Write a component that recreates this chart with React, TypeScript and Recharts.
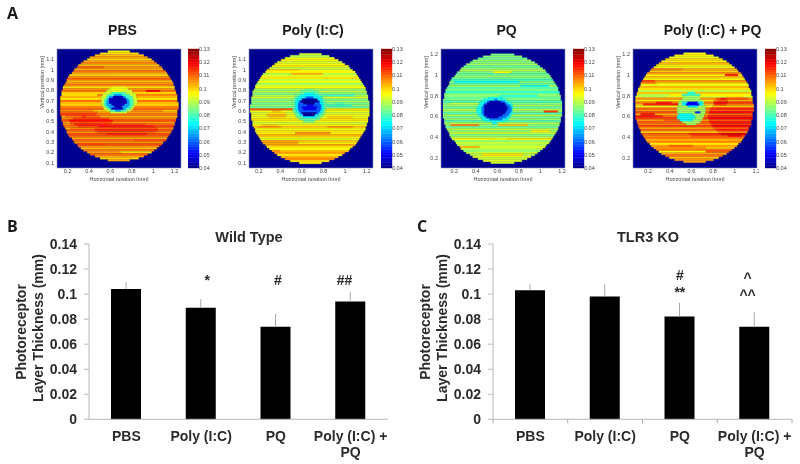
import React from "react"
import {
  Bar,
  BarChart,
  ErrorBar,
  ReferenceArea,
  ReferenceDot,
  ScatterChart,
  XAxis,
  YAxis,
} from "recharts"

// thickness rows of each map, top to bottom
const pbsRows = [
  0.097, 0.099, 0.102, 0.105, 0.1, 0.104, 0.107, 0.101, 0.106, 0.103, 0.109, 0.104, 0.1, 0.106, 0.11, 0.102, 0.105,
  0.108, 0.099, 0.105, 0.109, 0.1, 0.107, 0.103, 0.098, 0.109, 0.102, 0.1, 0.107, 0.11, 0.101, 0.105, 0.109, 0.103,
  0.107, 0.112, 0.105, 0.11, 0.113, 0.107, 0.111, 0.106, 0.112, 0.109, 0.104, 0.11, 0.105, 0.112, 0.107, 0.102, 0.108,
  0.104, 0.11, 0.105, 0.1, 0.104,
]
const polyRows = [
  0.092, 0.09, 0.094, 0.097, 0.092, 0.095, 0.098, 0.091, 0.094, 0.097, 0.09, 0.093, 0.099, 0.091, 0.096, 0.088, 0.092,
  0.097, 0.087, 0.091, 0.085, 0.089, 0.093, 0.085, 0.088, 0.084, 0.087, 0.083, 0.099, 0.095, 0.092, 0.097, 0.094,
  0.099, 0.096, 0.092, 0.097, 0.101, 0.095, 0.099, 0.096, 0.103, 0.098, 0.094, 0.101, 0.097, 0.104, 0.099, 0.095,
  0.102, 0.105, 0.098, 0.103, 0.106, 0.1, 0.098,
]
const pqRows = [
  0.084, 0.086, 0.083, 0.087, 0.085, 0.088, 0.083, 0.086, 0.09, 0.085, 0.082, 0.087, 0.084, 0.08, 0.086, 0.083, 0.088,
  0.081, 0.085, 0.078, 0.084, 0.087, 0.082, 0.086, 0.08, 0.085, 0.088, 0.082, 0.09, 0.086, 0.081, 0.089, 0.084, 0.087,
  0.081, 0.09, 0.086, 0.083, 0.09, 0.087, 0.092, 0.085, 0.089, 0.094, 0.087, 0.091, 0.089, 0.093, 0.09, 0.086, 0.092,
  0.089, 0.094, 0.091, 0.093, 0.092,
]
const polyPqRows = [
  0.096, 0.098, 0.094, 0.1, 0.097, 0.103, 0.098, 0.095, 0.104, 0.1, 0.106, 0.097, 0.102, 0.096, 0.106, 0.1, 0.094,
  0.103, 0.099, 0.09, 0.102, 0.097, 0.093, 0.106, 0.098, 0.108, 0.102, 0.095, 0.11, 0.105, 0.112, 0.103, 0.109, 0.113,
  0.105, 0.111, 0.107, 0.113, 0.104, 0.11, 0.1, 0.111, 0.106, 0.109, 0.103, 0.107, 0.098, 0.105, 0.101, 0.108, 0.097,
  0.104, 0.109, 0.102, 0.106, 0.104,
]

// local zones, later ones win: v replaces the row value, add shifts it
const pbsZones = [
  { cx: 0.9, cy: 0.95, rx: 0.25, ry: 0.01, v: 0.099 },
  { cx: 0.35, cy: 1.02, rx: 0.2, ry: 0.008, v: 0.111 },
  { cx: 0.9, cy: 0.6, rx: 0.2, ry: 0.012, add: 0.005 },
  { cx: 0.3, cy: 0.75, rx: 0.2, ry: 0.01, v: 0.099 },
  { cx: 1.0, cy: 0.32, rx: 0.18, ry: 0.01, v: 0.112 },
  { cx: 0.35, cy: 0.28, rx: 0.2, ry: 0.012, v: 0.113 },
  { cx: 0.85, cy: 0.2, rx: 0.15, ry: 0.012, v: 0.099 },
  { cx: 0.2, cy: 0.45, rx: 0.1, ry: 0.02, add: -0.004 },
  { cx: 0.95, cy: 0.72, rx: 0.2, ry: 0.008, v: 0.098 },
  { cx: 0.45, cy: 0.15, rx: 0.15, ry: 0.012, v: 0.1 },
  { cx: 0.42, cy: 0.5, rx: 0.2, ry: 0.05, add: 0.006 },
  { cx: 0.75, cy: 0.42, rx: 0.3, ry: 0.06, add: 0.004 },
  { cx: 0.28, cy: 0.58, rx: 0.2, ry: 0.04, add: 0.005 },
  { cx: 1.0, cy: 0.8, rx: 0.08, ry: 0.012, v: 0.12 },
  { cx: 0.68, cy: 0.7, rx: 0.17, ry: 0.13, v: 0.092 },
  { cx: 0.68, cy: 0.81, rx: 0.08, ry: 0.035, v: 0.095 },
  { cx: 0.68, cy: 0.685, rx: 0.14, ry: 0.1, v: 0.08 },
  { cx: 0.67, cy: 0.68, rx: 0.11, ry: 0.08, v: 0.066 },
  { cx: 0.67, cy: 0.695, rx: 0.085, ry: 0.05, v: 0.045 },
  { cx: 0.67, cy: 0.625, rx: 0.055, ry: 0.022, v: 0.045 },
]
const polyZones = [
  { cx: 0.65, cy: 0.96, rx: 0.15, ry: 0.01, v: 0.103 },
  { cx: 0.4, cy: 1.0, rx: 0.2, ry: 0.008, v: 0.1 },
  { cx: 0.95, cy: 0.66, rx: 0.15, ry: 0.012, v: 0.08 },
  { cx: 0.9, cy: 0.75, rx: 0.2, ry: 0.01, v: 0.08 },
  { cx: 0.7, cy: 0.38, rx: 0.18, ry: 0.012, v: 0.106 },
  { cx: 0.95, cy: 0.44, rx: 0.12, ry: 0.008, v: 0.105 },
  { cx: 0.4, cy: 0.3, rx: 0.22, ry: 0.015, v: 0.104 },
  { cx: 0.65, cy: 0.13, rx: 0.3, ry: 0.01, v: 0.107 },
  { cx: 0.3, cy: 0.22, rx: 0.15, ry: 0.008, v: 0.106 },
  { cx: 0.95, cy: 0.53, rx: 0.2, ry: 0.01, v: 0.1 },
  { cx: 0.3, cy: 0.45, rx: 0.12, ry: 0.015, add: 0.004 },
  { cx: 0.3, cy: 0.62, rx: 0.25, ry: 0.012, v: 0.11 },
  { cx: 0.37, cy: 0.56, rx: 0.09, ry: 0.04, add: 0.006 },
  { cx: 0.67, cy: 0.65, rx: 0.16, ry: 0.16, v: 0.083 },
  { cx: 0.67, cy: 0.65, rx: 0.135, ry: 0.125, v: 0.074 },
  { cx: 0.67, cy: 0.64, rx: 0.11, ry: 0.095, v: 0.06 },
  { cx: 0.67, cy: 0.695, rx: 0.085, ry: 0.03, v: 0.042 },
  { cx: 0.675, cy: 0.63, rx: 0.075, ry: 0.025, v: 0.05 },
  { cx: 0.67, cy: 0.57, rx: 0.07, ry: 0.02, v: 0.042 },
]
const pqZones = [
  { cx: 0.65, cy: 1.02, rx: 0.1, ry: 0.01, v: 0.096 },
  { cx: 0.5, cy: 0.93, rx: 0.3, ry: 0.006, v: 0.075 },
  { cx: 0.95, cy: 0.9, rx: 0.2, ry: 0.01, v: 0.077 },
  { cx: 0.8, cy: 0.8, rx: 0.18, ry: 0.01, v: 0.078 },
  { cx: 0.35, cy: 0.72, rx: 0.2, ry: 0.006, v: 0.09 },
  { cx: 0.4, cy: 0.38, rx: 0.18, ry: 0.01, v: 0.097 },
  { cx: 0.9, cy: 0.38, rx: 0.2, ry: 0.008, v: 0.098 },
  { cx: 0.65, cy: 0.23, rx: 0.2, ry: 0.008, v: 0.099 },
  { cx: 1.0, cy: 0.45, rx: 0.1, ry: 0.012, v: 0.098 },
  { cx: 0.3, cy: 0.51, rx: 0.14, ry: 0.012, v: 0.108 },
  { cx: 1.1, cy: 0.65, rx: 0.07, ry: 0.012, v: 0.113 },
  { cx: 0.2, cy: 0.655, rx: 0.07, ry: 0.006, v: 0.105 },
  { cx: 0.3, cy: 0.3, rx: 0.14, ry: 0.012, v: 0.103 },
  { cx: 0.75, cy: 0.51, rx: 0.15, ry: 0.006, v: 0.102 },
  { cx: 0.58, cy: 0.66, rx: 0.17, ry: 0.13, v: 0.076 },
  { cx: 0.59, cy: 0.66, rx: 0.14, ry: 0.1, v: 0.062 },
  { cx: 0.585, cy: 0.67, rx: 0.11, ry: 0.08, v: 0.044 },
  { cx: 0.56, cy: 0.62, rx: 0.08, ry: 0.045, v: 0.045 },
]
const polyPqZones = [
  { cx: 0.35, cy: 0.72, rx: 0.25, ry: 0.012, v: 0.116 },
  { cx: 0.2, cy: 0.6, rx: 0.14, ry: 0.02, v: 0.116 },
  { cx: 0.45, cy: 0.55, rx: 0.2, ry: 0.012, v: 0.11 },
  { cx: 0.6, cy: 0.42, rx: 0.2, ry: 0.006, v: 0.09 },
  { cx: 0.75, cy: 0.95, rx: 0.2, ry: 0.008, v: 0.09 },
  { cx: 0.35, cy: 1.05, rx: 0.2, ry: 0.008, v: 0.108 },
  { cx: 0.5, cy: 0.3, rx: 0.25, ry: 0.015, add: 0.005 },
  { cx: 0.9, cy: 0.25, rx: 0.2, ry: 0.012, v: 0.111 },
  { cx: 0.85, cy: 0.42, rx: 0.3, ry: 0.02, add: 0.005 },
  { cx: 1.0, cy: 0.6, rx: 0.24, ry: 0.2, add: 0.006 },
  { cx: 0.87, cy: 0.74, rx: 0.07, ry: 0.04, add: 0.006 },
  { cx: 0.97, cy: 1.0, rx: 0.06, ry: 0.012, v: 0.116 },
  { cx: 0.2, cy: 0.93, rx: 0.08, ry: 0.02, add: 0.007 },
  { cx: 0.25, cy: 0.8, rx: 0.17, ry: 0.015, v: 0.09 },
  { cx: 0.6, cy: 0.66, rx: 0.13, ry: 0.15, v: 0.088 },
  { cx: 0.61, cy: 0.72, rx: 0.1, ry: 0.03, v: 0.073 },
  { cx: 0.615, cy: 0.72, rx: 0.065, ry: 0.016, v: 0.052 },
  { cx: 0.55, cy: 0.59, rx: 0.09, ry: 0.04, v: 0.075 },
  { cx: 0.66, cy: 0.63, rx: 0.03, ry: 0.012, v: 0.054 },
  { cx: 0.6, cy: 0.81, rx: 0.08, ry: 0.018, v: 0.078 },
]

const barLevels = [
  0.04, 0.042, 0.044, 0.046, 0.048, 0.05, 0.052, 0.054, 0.056, 0.058, 0.06, 0.062, 0.064, 0.066, 0.068, 0.07, 0.072,
  0.074, 0.076, 0.078, 0.08, 0.082, 0.084, 0.086, 0.088, 0.09, 0.092, 0.094, 0.096, 0.098, 0.1, 0.102, 0.104, 0.106,
  0.108, 0.11, 0.112, 0.114, 0.116, 0.118, 0.12, 0.122, 0.124, 0.126, 0.128,
]
const barTicks = [0.04, 0.05, 0.06, 0.07, 0.08, 0.09, 0.1, 0.11, 0.12, 0.13]

const hTicks = [0.2, 0.4, 0.6, 0.8, 1, 1.2]
const vTicksLow = [0.1, 0.2, 0.3, 0.4, 0.5, 0.6, 0.7, 0.8, 0.9, 1, 1.1]
const vTicksHigh = [0.2, 0.4, 0.6, 0.8, 1, 1.2]

const categories = ["PBS", "Poly (I:C)", "PQ", "Poly (I:C) + PQ"]
const wildType = [0.104, 0.089, 0.074, 0.094]
const wildTypeErr = [0.0055, 0.007, 0.01, 0.008]
const tlr3 = [0.103, 0.098, 0.082, 0.074]
const tlr3Err = [0.005, 0.01, 0.011, 0.0115]
const thicknessTicks = [0, 0.02, 0.04, 0.06, 0.08, 0.1, 0.12, 0.14]

const wildNotes = [
  { cat: "Poly (I:C)", y: 0.107, text: "*", dx: 6 },
  { cat: "PQ", y: 0.107, text: "#", dx: 2 },
  { cat: "Poly (I:C) + PQ", y: 0.107, text: "##", dx: -6 },
]
const tlrNotes = [
  { cat: "PQ", y: 0.111, text: "#", dx: 0 },
  { cat: "PQ", y: 0.098, text: "**", dx: 0 },
  { cat: "Poly (I:C) + PQ", y: 0.109, text: "^", dx: -7 },
  { cat: "Poly (I:C) + PQ", y: 0.095, text: "^^", dx: -7 },
]

const sans = "'Liberation Sans', Arial, sans-serif"

function jet(v: number) {
  const t = Math.min(1, Math.max(0, (v - 0.04) / 0.09))
  const ch = (c: number) => Math.round(255 * Math.min(1, Math.max(0, 1.5 - Math.abs(4 * t - c))))
  return `rgb(${ch(3)},${ch(2)},${ch(1)})`
}

type Zone = { cx: number; cy: number; rx: number; ry: number; v?: number; add?: number }

// splits each row of the disc into runs of one colour
function discRuns(rows: number[], zones: Zone[], cx: number, cy: number, rx: number, ry: number) {
  const rowH = (2 * ry) / rows.length
  const step = 0.012
  const runs: { x1: number; x2: number; y1: number; y2: number; fill: string }[] = []
  rows.forEach((rowValue, i) => {
    const y2 = cy + ry - i * rowH
    const y1 = y2 - rowH
    const yc = (y1 + y2) / 2
    const half = rx * Math.sqrt(Math.max(0, 1 - ((yc - cy) / ry) ** 2))
    const start = Math.round((cx - half) / step) * step
    const end = Math.round((cx + half) / step) * step
    let cur: { x1: number; x2: number; y1: number; y2: number; fill: string } | null = null
    for (let x = start; x < end - 1e-6; x += step) {
      let v = rowValue
      for (const z of zones) {
        const d = ((x + step / 2 - z.cx) / z.rx) ** 2 + ((yc - z.cy) / z.ry) ** 2
        if (d <= 1) v = z.v !== undefined ? z.v : v + (z.add || 0)
      }
      const fill = jet(v)
      if (cur && cur.fill === fill) cur.x2 = x + step
      else {
        cur = { x1: x, x2: x + step, y1, y2, fill }
        runs.push(cur)
      }
    }
  })
  return runs
}

type MapProps = {
  title: string
  titleX: number
  left: number
  rows: number[]
  zones: Zone[]
  xDomain: [number, number]
  yDomain: [number, number]
  yTicks: number[]
  disc: [number, number, number, number]
  barLeft: number
}

const axisText = { fontSize: 5.5, fill: "#444", fontFamily: sans }

function ThicknessMap({ title, titleX, left, rows, zones, xDomain, yDomain, yTicks, disc, barLeft }: MapProps) {
  const runs = discRuns(rows, zones, disc[0], disc[1], disc[2], disc[3])
  return (
    <>
      <div
        style={{
          position: "absolute",
          left: titleX - 70,
          width: 140,
          top: 22,
          textAlign: "center",
          font: `bold 14px ${sans}`,
          color: "#1a1a1a",
        }}
      >
        {title}
      </div>
      <div style={{ position: "absolute", left: left - 24, top: 47, filter: "blur(0.45px)" }}>
        <ScatterChart width={124 + 24 + 2} height={121 + 13} margin={{ top: 2, right: 2, bottom: 0, left: 0 }}>
          <XAxis
            type="number"
            dataKey="x"
            domain={xDomain}
            ticks={hTicks}
            interval={0}
            allowDataOverflow
            height={13}
            axisLine={false}
            tickLine={false}
            tickSize={0}
            tickMargin={1}
            tick={axisText}
            label={{ value: "Horizontal position [mm]", position: "insideBottom", offset: 0, ...axisText }}
          />
          <YAxis
            type="number"
            dataKey="y"
            domain={yDomain}
            ticks={yTicks}
            interval={0}
            allowDataOverflow
            width={24}
            axisLine={false}
            tickLine={false}
            tickSize={0}
            tickMargin={3}
            tick={axisText}
            label={{ value: "Vertical position [mm]", angle: -90, position: "insideLeft", offset: 9, ...axisText }}
          />
          <ReferenceArea
            x1={xDomain[0]}
            x2={xDomain[1]}
            y1={yDomain[0]}
            y2={yDomain[1]}
            fill="#00008f"
            fillOpacity={1}
            stroke="#8a94b8"
            strokeWidth={0.6}
          />
          {runs.map((r, i) => (
            <ReferenceArea
              key={i}
              x1={r.x1}
              x2={r.x2}
              y1={r.y1}
              y2={r.y2}
              fill={r.fill}
              fillOpacity={1}
              stroke={r.fill}
              strokeWidth={0.3}
            />
          ))}
        </ScatterChart>
      </div>
      <div style={{ position: "absolute", left: barLeft, top: 47, filter: "blur(0.45px)" }}>
        <ScatterChart width={24} height={123} margin={{ top: 2, right: 0, bottom: 2, left: 0 }}>
          <XAxis type="number" dataKey="x" domain={[0, 1]} allowDataOverflow hide />
          <YAxis
            type="number"
            dataKey="y"
            orientation="right"
            domain={[0.04, 0.13]}
            ticks={barTicks}
            interval={0}
            allowDataOverflow
            width={13}
            axisLine={false}
            tickLine={false}
            tickSize={0}
            tickMargin={0}
            tick={axisText}
          />
          {barLevels.map((level) => (
            <ReferenceArea
              key={level}
              x1={0}
              x2={1}
              y1={level}
              y2={level + 0.002}
              fill={jet(level + 0.001)}
              fillOpacity={1}
              stroke={jet(level + 0.001)}
              strokeWidth={0.4}
            />
          ))}
        </ScatterChart>
      </div>
    </>
  )
}

const labelText = { fontSize: 14, fontWeight: 700, fill: "#2b2b2b", fontFamily: sans }

function CategoryTick({ x, y, payload, index, edges }: any) {
  const step = 74.75
  const words = payload.value === "Poly (I:C) + PQ" ? ["Poly (I:C) +", "PQ"] : [payload.value]
  return (
    <g>
      {edges && <line x1={x - step / 2} x2={x - step / 2} y1={y} y2={y + 4} stroke="#aaa" />}
      {edges && index === 3 && <line x1={x + step / 2} x2={x + step / 2} y1={y} y2={y + 4} stroke="#aaa" />}
      <text x={x} textAnchor="middle" {...labelText}>
        {words.map((w: string, i: number) => (
          <tspan key={w} x={x} y={y + 22 + i * 15.5}>
            {w}
          </tspan>
        ))}
      </text>
    </g>
  )
}

type ThicknessProps = {
  left: number
  title: string
  titleX: number
  values: number[]
  errs: number[]
  notes: { cat: string; y: number; text: string; dx: number }[]
  edges: boolean
}

function NoteLabel({ viewBox, text, dx }: any) {
  return (
    <text x={viewBox.x + dx} y={viewBox.y} textAnchor="middle" {...labelText}>
      {text}
    </text>
  )
}

function ThicknessBars({ left, title, titleX, values, errs, notes, edges }: ThicknessProps) {
  const rows = categories.map((name, i) => ({ name, value: values[i], err: [0, errs[i]] }))
  return (
    <div style={{ position: "absolute", left, top: 230 }}>
      <BarChart width={396} height={234} data={rows} margin={{ top: 14, right: 8, bottom: 0, left: 0 }}>
        <XAxis
          dataKey="name"
          height={44.7}
          interval={0}
          stroke="#b8b8b8"
          tickLine={false}
          tickSize={0}
          tickMargin={0}
          tick={<CategoryTick edges={edges} />}
        />
        <YAxis
          domain={[0, 0.14]}
          ticks={thicknessTicks}
          interval={0}
          width={89}
          stroke="#b8b8b8"
          tickSize={5}
          tickMargin={7}
          tick={labelText}
        />
        <Bar dataKey="value" fill="#000" barSize={30} isAnimationActive={false}>
          <ErrorBar dataKey="err" direction="y" width={0} stroke="#a8a8a8" strokeWidth={1} isAnimationActive={false} />
        </Bar>
        {notes.map((n) => (
          <ReferenceDot
            key={n.text}
            x={n.cat}
            y={n.y}
            r={0}
            fill="none"
            stroke="none"
            label={<NoteLabel text={n.text} dx={n.dx} />}
          />
        ))}
        <text x={titleX} y={12} textAnchor="middle" {...labelText} fontSize={14.5}>
          {title}
        </text>
        <text transform="translate(26 102) rotate(-90)" textAnchor="middle" {...labelText}>
          Photoreceptor
        </text>
        <text transform="translate(43 98) rotate(-90)" textAnchor="middle" {...labelText}>
          Layer Thickness (mm)
        </text>
      </BarChart>
    </div>
  )
}

function PanelLetter({ text, x, y }: { text: string; x: number; y: number }) {
  return (
    <div style={{ position: "absolute", left: x, top: y, font: `bold 16px 'Open Sans', sans-serif`, color: "#1a1a1a" }}>
      {text}
    </div>
  )
}

export default function App() {
  return (
    <div
      style={{
        position: "absolute",
        left: 0,
        top: 0,
        width: 800,
        height: 464,
        background: "#fff",
        overflow: "hidden",
        filter: "blur(0.25px)",
      }}
    >
      <PanelLetter text="A" x={7} y={2} />
      <PanelLetter text="B" x={7} y={215} />
      <PanelLetter text="C" x={417} y={215} />

      <ThicknessMap
        title="PBS"
        titleX={122.5}
        left={57}
        rows={pbsRows}
        zones={pbsZones}
        xDomain={[0.1, 1.26]}
        yDomain={[0.05, 1.2]}
        yTicks={vTicksLow}
        disc={[0.68, 0.65, 0.552, 0.534]}
        barLeft={188}
      />
      <ThicknessMap
        title="Poly (I:C)"
        titleX={313}
        left={249}
        rows={polyRows}
        zones={polyZones}
        xDomain={[0.11, 1.258]}
        yDomain={[0.05, 1.2]}
        yTicks={vTicksLow}
        disc={[0.674, 0.624, 0.55, 0.534]}
        barLeft={381}
      />
      <ThicknessMap
        title="PQ"
        titleX={506.5}
        left={441}
        rows={pqRows}
        zones={pqZones}
        xDomain={[0.077, 1.228]}
        yDomain={[0.1, 1.252]}
        yTicks={vTicksHigh}
        disc={[0.646, 0.674, 0.554, 0.532]}
        barLeft={573}
      />
      <ThicknessMap
        title="Poly (I:C) + PQ"
        titleX={712.5}
        left={633}
        rows={polyPqRows}
        zones={polyPqZones}
        xDomain={[0.06, 1.206]}
        yDomain={[0.1, 1.252]}
        yTicks={vTicksHigh}
        disc={[0.625, 0.684, 0.547, 0.532]}
        barLeft={765}
      />

      <ThicknessBars
        left={0}
        title="Wild Type"
        titleX={249}
        values={wildType}
        errs={wildTypeErr}
        notes={wildNotes}
        edges={false}
      />
      <ThicknessBars
        left={404}
        title="TLR3 KO"
        titleX={244}
        values={tlr3}
        errs={tlr3Err}
        notes={tlrNotes}
        edges={true}
      />
    </div>
  )
}
